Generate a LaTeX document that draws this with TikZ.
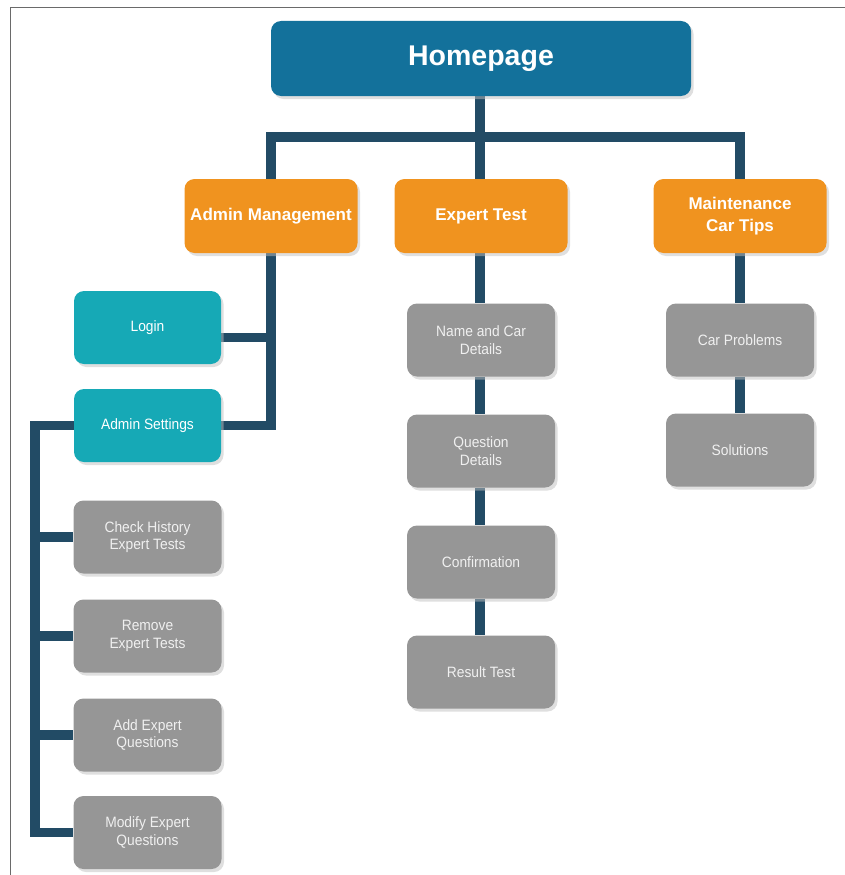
\documentclass[tikz,border=0pt]{standalone}
\usepackage{fontspec}
\setmainfont{Liberation Sans}
\newfontfamily\narrowfont{Liberation Sans}[FakeStretch=0.92]
\usetikzlibrary{shadows,backgrounds}

\definecolor{homeblue}{HTML}{13719B}
\definecolor{orangebox}{HTML}{F0931F}
\definecolor{tealbox}{HTML}{16A9B6}
\definecolor{graybox}{HTML}{969696}
\definecolor{linknavy}{HTML}{224B65}
\definecolor{framegray}{HTML}{6A6A6A}

\tikzset{
  box/.style={rounded corners=10pt, inner sep=0pt, align=center, text=white,
    drop shadow={shadow xshift=2.5pt, shadow yshift=-3pt, fill=black!25, opacity=0.5}},
  homebox/.style={box, fill=homeblue, minimum width=420pt, minimum height=75pt,
    font=\fontsize{28.5}{32}\selectfont\bfseries},
  topicbox/.style={box, fill=orangebox, minimum width=173pt, minimum height=74pt,
    font=\fontsize{17}{22}\selectfont\bfseries},
  tealnode/.style={box, fill=tealbox, minimum width=147pt, minimum height=73pt,
    font=\narrowfont\fontsize{15}{17.5}\selectfont},
  graynode/.style={box, fill=graybox, minimum width=148pt, minimum height=73pt,
    text=white!94!black, font=\narrowfont\fontsize{15}{17.5}\selectfont},
  link/.style={draw=linknavy, line width=9.5pt}
}

\begin{document}
\begin{tikzpicture}[x=1pt, y=-1pt]
  \useasboundingbox (0,0) rectangle (845,875);
  % frame edges
  \draw[framegray, line width=1pt] (10,875) -- (10,8) -- (845,8);

  % top level
  \node[homebox] (home) at (481,58.5) {\raisebox{-2pt}{Homepage}};

  % second level
  \node[topicbox] (admin) at (271,216) {Admin Management};
  \node[topicbox] (expert) at (481,216) {Expert Test};
  \node[topicbox] (maint) at (740,216) {Maintenance\\Car Tips};

  % admin branch
  \node[tealnode] (login) at (147.5,327.5) {Login};
  \node[tealnode] (aset) at (147.5,425.5) {Admin Settings};
  \node[graynode] (chk) at (147.5,537) {Check History\\Expert Tests};
  \node[graynode] (rem) at (147.5,636) {Remove\\Expert Tests};
  \node[graynode] (addq) at (147.5,735) {Add Expert\\Questions};
  \node[graynode] (modq) at (147.5,832.5) {Modify Expert\\Questions};

  % expert test branch
  \node[graynode] (name) at (481,340) {Name and Car\\Details};
  \node[graynode] (quest) at (481,451) {Question\\Details};
  \node[graynode] (conf) at (481,562) {Confirmation};
  \node[graynode] (res) at (481,672) {Result Test};

  % maintenance branch
  \node[graynode] (prob) at (740,340) {Car Problems};
  \node[graynode] (sol) at (740,450) {Solutions};

  % helper points for the connector runs
  \coordinate (bar) at (480,137);
  \coordinate (trunk) at (271,425.5);
  \coordinate (spine) at (35,425.5);

  \begin{scope}[on background layer]
    % homepage to the three topics
    \draw[link] (home.south -| bar) -- (bar);
    \draw[link] (admin.north) -- (admin.north |- bar) -- (maint.north |- bar) -- (maint.north);
    \draw[link] (bar) -- (expert.north -| bar);

    % admin management to login and settings
    \draw[link] (admin.south) -- (trunk) -- (aset.east);
    \draw[link] ([yshift=-10pt]login.east) -- ([yshift=-10pt]login.east -| trunk);

    % settings to its four pages
    \draw[link] (aset.west) -- (spine) -- ([yshift=-4.75pt]spine |- modq.west);
    \draw[link] (spine |- chk.west) -- (chk.west);
    \draw[link] (spine |- rem.west) -- (rem.west);
    \draw[link] (spine |- addq.west) -- (addq.west);
    \draw[link] (spine |- modq.west) -- (modq.west);

    % expert test chain
    \draw[link] (expert.south -| bar) -- (name.north -| bar);
    \draw[link] (name.south -| bar) -- (quest.north -| bar);
    \draw[link] (quest.south -| bar) -- (conf.north -| bar);
    \draw[link] (conf.south -| bar) -- (res.north -| bar);

    % maintenance chain
    \draw[link] (maint.south) -- (prob.north);
    \draw[link] (prob.south) -- (sol.north);
  \end{scope}
\end{tikzpicture}
\end{document}
